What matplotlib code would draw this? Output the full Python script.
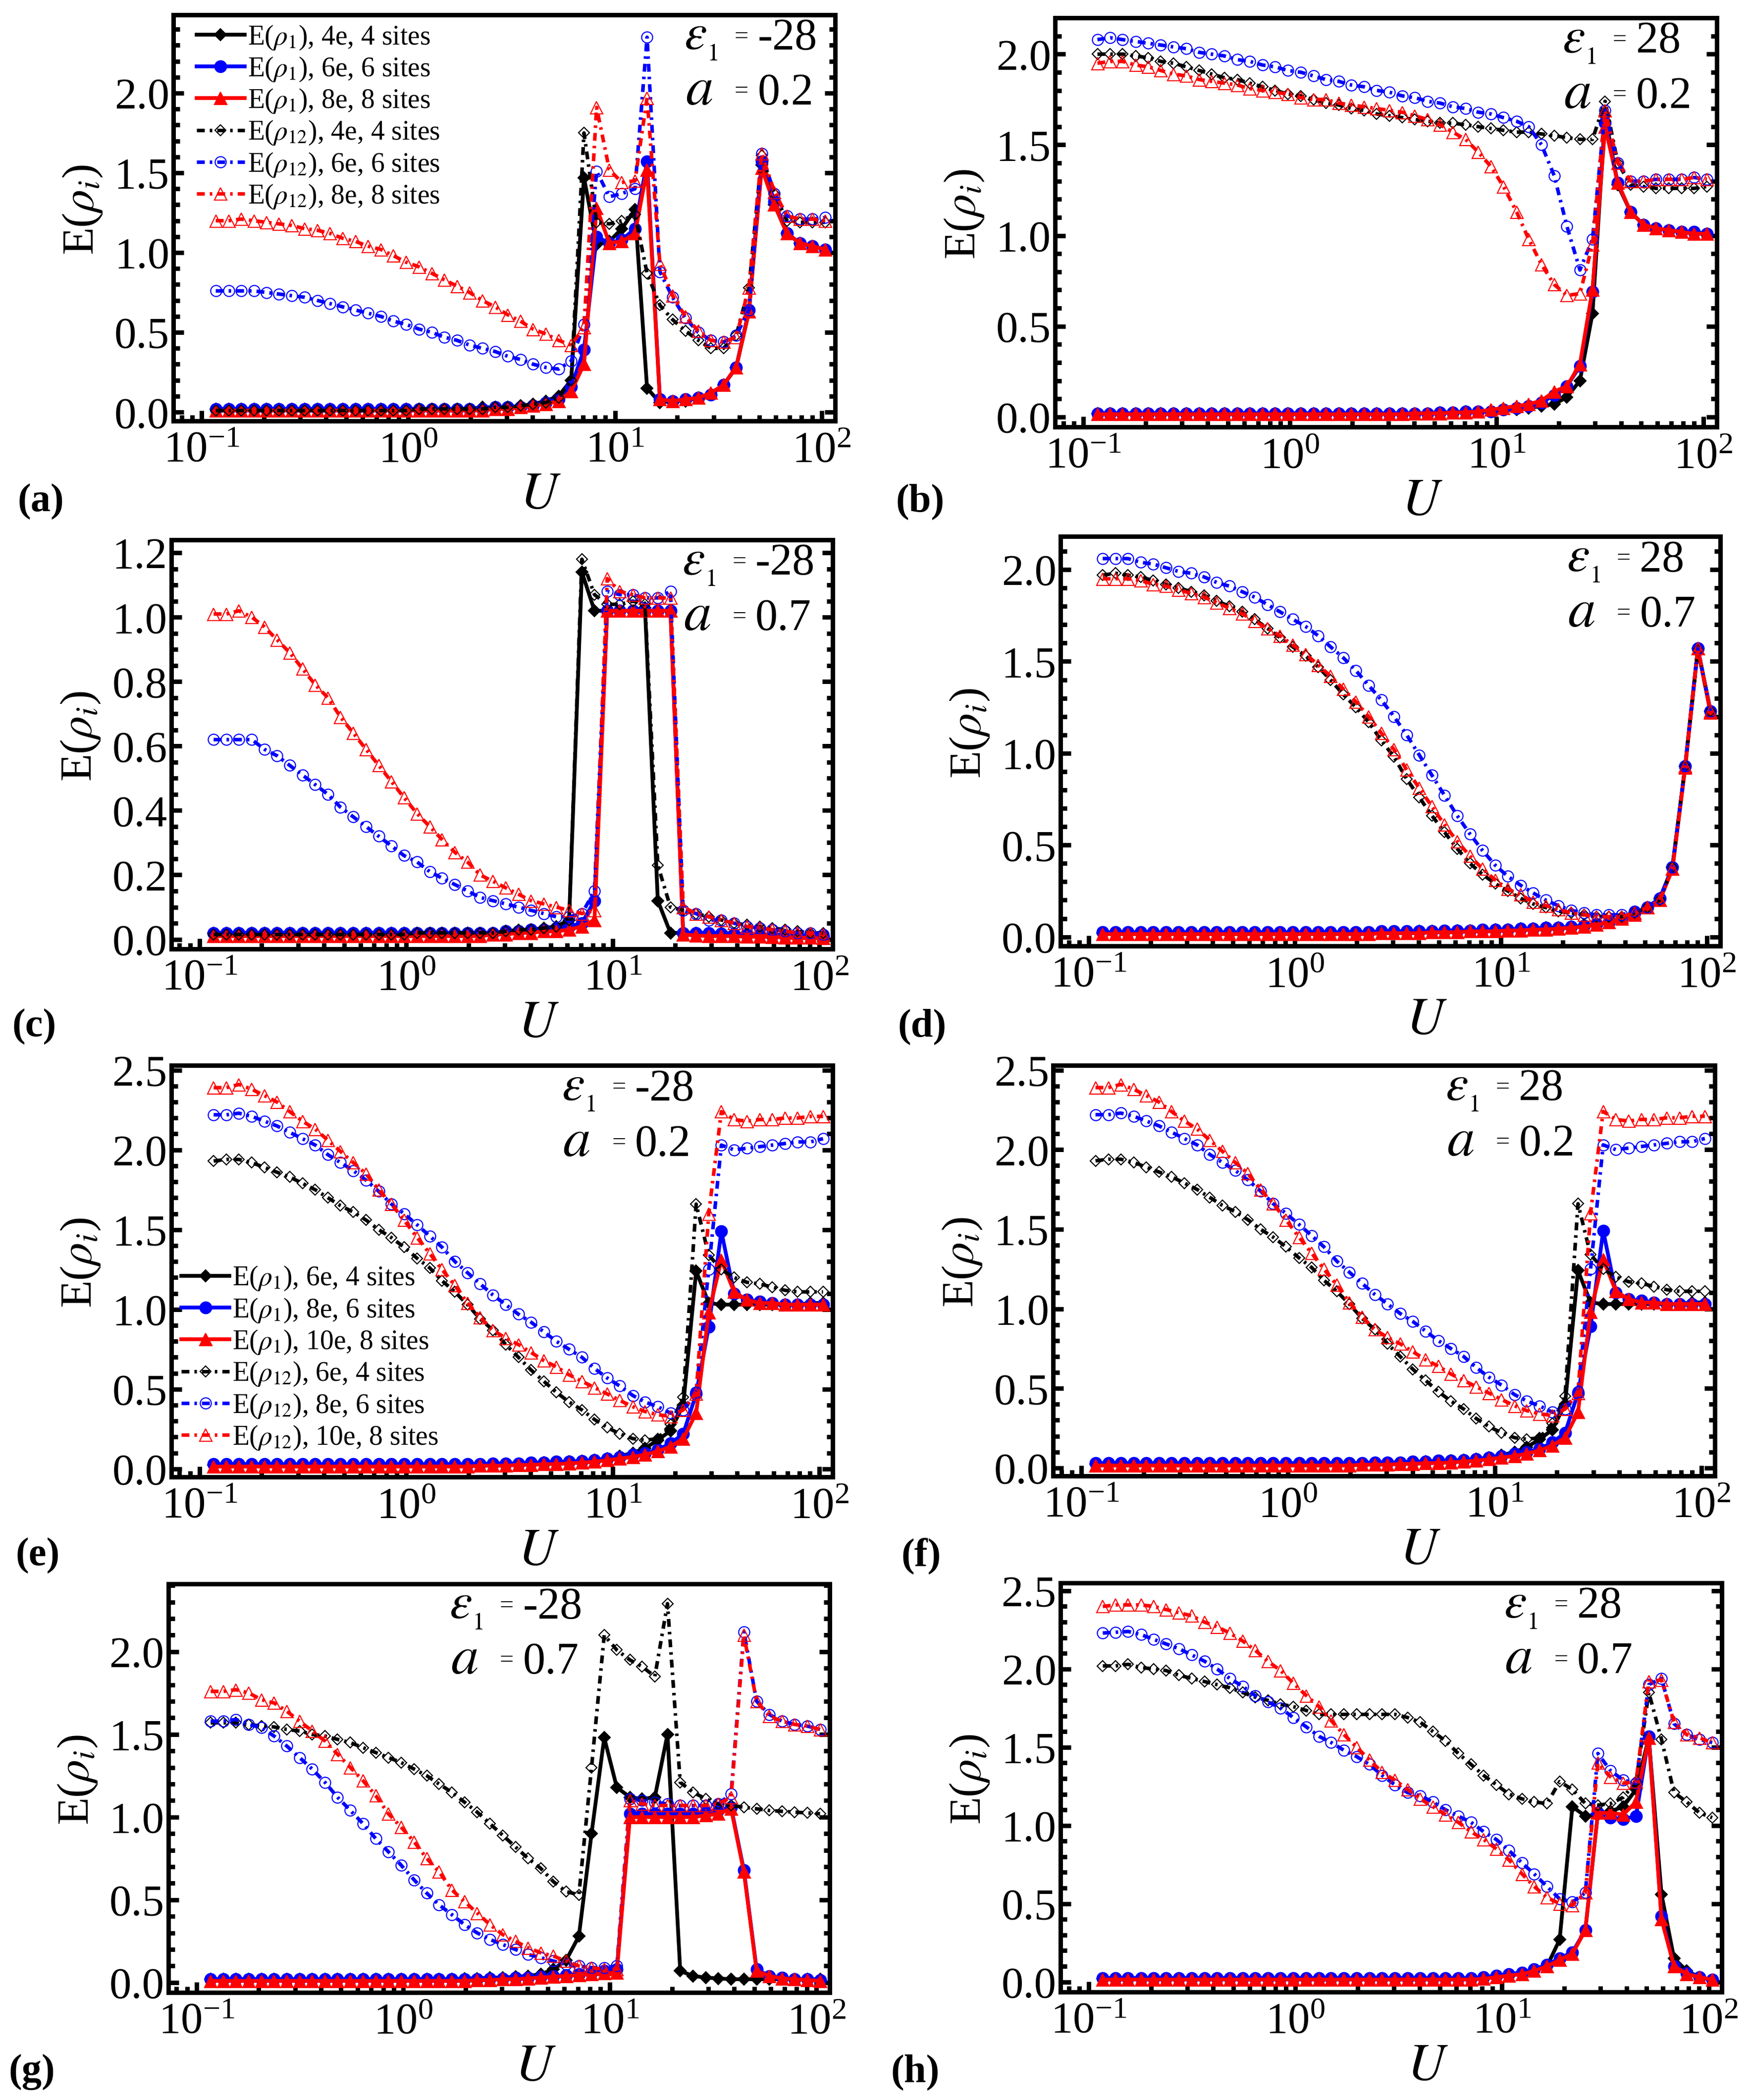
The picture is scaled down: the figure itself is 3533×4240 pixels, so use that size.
import matplotlib
matplotlib.use("Agg")
import matplotlib.pyplot as plt
from matplotlib.ticker import MultipleLocator, LogLocator, NullFormatter, FormatStrFormatter

plt.rcParams['font.family'] = ['Liberation Serif', 'DejaVu Serif']
plt.rcParams['mathtext.fontset'] = 'stix'
plt.rcParams['axes.unicode_minus'] = False

# ── Data ─────────────────────────────────────────────────────────────────────

U = [0.117, 0.135, 0.155, 0.179, 0.206, 0.237, 0.273, 0.315, 0.363, 0.418,
     0.481, 0.555, 0.639, 0.736, 0.848, 0.976, 1.13, 1.30, 1.49, 1.72,
     1.98, 2.28, 2.63, 3.03, 3.49, 4.02, 4.63, 5.33, 6.14, 7.08,
     8.15, 9.39, 10.8, 12.5, 14.3, 16.5, 19.0, 21.9, 25.3, 29.1,
     33.5, 38.6, 44.5, 51.3, 59.1, 68.0, 78.4, 90.3, 104.0]

# (a) eps1 = -28, a = 0.2
a_r1_4e = [0.02, 0.02, 0.02, 0.02, 0.02, 0.02, 0.02, 0.02, 0.02, 0.02,
           0.02, 0.02, 0.02, 0.02, 0.02, 0.02, 0.02, 0.02, 0.02, 0.02,
           0.02, 0.03, 0.03, 0.03, 0.04, 0.05, 0.07, 0.10, 0.20, 1.47,
           1.05, 1.07, 1.15, 1.27, 0.15, 0.06, 0.07, 0.07, 0.09, 0.11,
           0.17, 0.28, 0.63, 1.55, 1.30, 1.12, 1.06, 1.04, 1.02]
a_r1_6e = [0.02, 0.02, 0.02, 0.02, 0.02, 0.02, 0.02, 0.02, 0.02, 0.02,
           0.02, 0.02, 0.02, 0.02, 0.02, 0.02, 0.02, 0.02, 0.02, 0.02,
           0.02, 0.02, 0.03, 0.03, 0.03, 0.04, 0.06, 0.08, 0.16, 0.39,
           1.10, 1.06, 1.08, 1.15, 1.57, 0.08, 0.07, 0.08, 0.09, 0.11,
           0.17, 0.28, 0.64, 1.57, 1.32, 1.12, 1.06, 1.04, 1.02]
a_r1_8e = [0.01, 0.01, 0.01, 0.01, 0.01, 0.01, 0.01, 0.01, 0.01, 0.01,
           0.01, 0.01, 0.01, 0.01, 0.01, 0.01, 0.01, 0.01, 0.01, 0.01,
           0.01, 0.01, 0.02, 0.02, 0.03, 0.04, 0.05, 0.07, 0.13, 0.30,
           1.28, 1.06, 1.07, 1.12, 1.52, 0.08, 0.07, 0.08, 0.09, 0.12,
           0.17, 0.28, 0.63, 1.53, 1.30, 1.12, 1.06, 1.04, 1.02]
a_r12_4e = [0.01, 0.01, 0.01, 0.01, 0.01, 0.01, 0.01, 0.01, 0.01, 0.01,
            0.01, 0.01, 0.01, 0.01, 0.01, 0.01, 0.02, 0.02, 0.02, 0.02,
            0.02, 0.02, 0.03, 0.03, 0.04, 0.05, 0.06, 0.09, 0.20, 1.75,
            1.19, 1.18, 1.20, 1.24, 0.87, 0.67, 0.58, 0.51, 0.45, 0.40,
            0.40, 0.48, 0.78, 1.61, 1.37, 1.20, 1.19, 1.19, 1.19]
a_r12_6e = [0.76, 0.76, 0.76, 0.76, 0.75, 0.74, 0.73, 0.72, 0.70, 0.68,
            0.66, 0.64, 0.62, 0.60, 0.57, 0.55, 0.52, 0.50, 0.47, 0.45,
            0.42, 0.40, 0.38, 0.35, 0.33, 0.30, 0.28, 0.27, 0.32, 0.55,
            1.51, 1.35, 1.37, 1.40, 2.35, 0.88, 0.72, 0.59, 0.50, 0.45,
            0.44, 0.48, 0.64, 1.62, 1.37, 1.23, 1.21, 1.21, 1.22]
a_r12_8e = [1.20, 1.20, 1.21, 1.20, 1.19, 1.18, 1.17, 1.15, 1.14, 1.12,
            1.09, 1.07, 1.04, 1.02, 0.98, 0.94, 0.91, 0.87, 0.83, 0.79,
            0.75, 0.70, 0.66, 0.61, 0.57, 0.52, 0.49, 0.45, 0.42, 0.53,
            1.91, 1.52, 1.44, 1.45, 1.97, 0.93, 0.73, 0.60, 0.51, 0.45,
            0.44, 0.47, 0.78, 1.62, 1.38, 1.23, 1.21, 1.21, 1.20]

# (b) eps1 = 28, a = 0.2
b_r1_4e = [0.02, 0.02, 0.02, 0.02, 0.02, 0.02, 0.02, 0.02, 0.02, 0.02,
           0.02, 0.02, 0.02, 0.02, 0.02, 0.02, 0.02, 0.02, 0.02, 0.02,
           0.02, 0.02, 0.02, 0.02, 0.02, 0.02, 0.02, 0.025, 0.025, 0.03,
           0.03, 0.03, 0.04, 0.04, 0.05, 0.06, 0.07, 0.11, 0.20, 0.57,
           1.66, 1.28, 1.13, 1.06, 1.04, 1.03, 1.02, 1.01, 1.01]
b_r1_6e = [0.02, 0.02, 0.02, 0.02, 0.02, 0.02, 0.02, 0.02, 0.02, 0.02,
           0.02, 0.02, 0.02, 0.02, 0.02, 0.02, 0.02, 0.02, 0.02, 0.02,
           0.02, 0.02, 0.02, 0.02, 0.02, 0.02, 0.02, 0.025, 0.025, 0.03,
           0.03, 0.03, 0.04, 0.05, 0.06, 0.08, 0.12, 0.17, 0.28, 0.69,
           1.62, 1.29, 1.13, 1.06, 1.04, 1.03, 1.02, 1.02, 1.01]
b_r1_8e = [0.015, 0.015, 0.015, 0.015, 0.015, 0.015, 0.015, 0.015, 0.015, 0.015,
           0.015, 0.015, 0.015, 0.015, 0.015, 0.015, 0.015, 0.015, 0.015, 0.015,
           0.015, 0.015, 0.015, 0.015, 0.015, 0.02, 0.02, 0.02, 0.025, 0.025,
           0.03, 0.04, 0.05, 0.06, 0.07, 0.09, 0.14, 0.17, 0.29, 0.70,
           1.60, 1.29, 1.13, 1.06, 1.04, 1.03, 1.02, 1.01, 1.01]
b_r12_4e = [2.00, 2.00, 2.00, 1.99, 1.98, 1.96, 1.95, 1.93, 1.91, 1.89,
            1.87, 1.86, 1.84, 1.82, 1.80, 1.78, 1.77, 1.75, 1.73, 1.72,
            1.70, 1.69, 1.67, 1.66, 1.65, 1.64, 1.63, 1.62, 1.62, 1.61,
            1.60, 1.59, 1.58, 1.57, 1.57, 1.56, 1.55, 1.54, 1.53, 1.53,
            1.74, 1.40, 1.28, 1.27, 1.26, 1.26, 1.26, 1.26, 1.27]
b_r12_6e = [2.08, 2.09, 2.08, 2.07, 2.06, 2.05, 2.04, 2.03, 2.01, 2.00,
            1.99, 1.97, 1.96, 1.94, 1.93, 1.91, 1.90, 1.88, 1.86, 1.85,
            1.83, 1.82, 1.80, 1.79, 1.77, 1.76, 1.74, 1.73, 1.71, 1.70,
            1.68, 1.67, 1.65, 1.63, 1.60, 1.50, 1.33, 1.05, 0.81, 0.98,
            1.69, 1.40, 1.30, 1.30, 1.31, 1.31, 1.31, 1.32, 1.31]
b_r12_8e = [1.95, 1.96, 1.96, 1.94, 1.93, 1.91, 1.89, 1.88, 1.86, 1.85,
            1.84, 1.83, 1.81, 1.80, 1.79, 1.78, 1.76, 1.75, 1.75, 1.73,
            1.72, 1.71, 1.70, 1.69, 1.68, 1.66, 1.64, 1.61, 1.57, 1.53,
            1.46, 1.38, 1.27, 1.13, 0.98, 0.84, 0.73, 0.67, 0.68, 0.95,
            1.69, 1.40, 1.30, 1.30, 1.31, 1.31, 1.31, 1.32, 1.31]

# (c) eps1 = -28, a = 0.7
c_r1_4e = [0.02, 0.02, 0.02, 0.02, 0.02, 0.02, 0.02, 0.02, 0.02, 0.02,
           0.02, 0.02, 0.02, 0.02, 0.02, 0.02, 0.02, 0.02, 0.02, 0.02,
           0.02, 0.02, 0.02, 0.025, 0.025, 0.03, 0.035, 0.04, 0.06, 1.14,
           1.02, 1.02, 1.02, 1.02, 1.03, 0.12, 0.02, 0.02, 0.02, 0.02,
           0.02, 0.018, 0.016, 0.015, 0.014, 0.013, 0.012, 0.011, 0.01]
c_r1_6e = [0.02, 0.02, 0.02, 0.02, 0.02, 0.02, 0.02, 0.02, 0.02, 0.02,
           0.02, 0.02, 0.02, 0.02, 0.02, 0.02, 0.02, 0.02, 0.02, 0.02,
           0.02, 0.02, 0.02, 0.025, 0.025, 0.03, 0.03, 0.035, 0.04, 0.05,
           0.12, 1.02, 1.02, 1.02, 1.02, 1.02, 1.02, 0.02, 0.02, 0.02,
           0.018, 0.016, 0.015, 0.014, 0.012, 0.011, 0.01, 0.009, 0.008]
c_r1_8e = [0.01, 0.01, 0.01, 0.01, 0.01, 0.01, 0.01, 0.01, 0.01, 0.01,
           0.01, 0.01, 0.01, 0.01, 0.01, 0.01, 0.01, 0.01, 0.01, 0.01,
           0.01, 0.01, 0.015, 0.015, 0.02, 0.02, 0.025, 0.025, 0.03, 0.04,
           0.06, 1.02, 1.02, 1.02, 1.02, 1.02, 1.02, 0.015, 0.012, 0.01,
           0.01, 0.01, 0.008, 0.008, 0.007, 0.006, 0.005, 0.005, 0.004]
c_r12_4e = [0.015, 0.015, 0.015, 0.015, 0.015, 0.015, 0.015, 0.015, 0.015, 0.015,
            0.015, 0.015, 0.015, 0.015, 0.015, 0.015, 0.02, 0.02, 0.02, 0.02,
            0.02, 0.02, 0.02, 0.025, 0.03, 0.03, 0.035, 0.04, 0.06, 1.18,
            1.07, 1.04, 1.04, 1.05, 1.04, 0.23, 0.10, 0.09, 0.08, 0.07,
            0.06, 0.05, 0.045, 0.04, 0.035, 0.03, 0.025, 0.02, 0.02]
c_r12_6e = [0.62, 0.62, 0.62, 0.62, 0.59, 0.57, 0.54, 0.51, 0.48, 0.45,
            0.41, 0.38, 0.35, 0.32, 0.29, 0.26, 0.24, 0.21, 0.19, 0.17,
            0.15, 0.13, 0.12, 0.11, 0.10, 0.09, 0.08, 0.07, 0.07, 0.08,
            0.15, 1.08, 1.07, 1.07, 1.06, 1.06, 1.08, 0.09, 0.08, 0.06,
            0.06, 0.05, 0.04, 0.035, 0.03, 0.025, 0.02, 0.02, 0.015]
c_r12_8e = [1.01, 1.01, 1.02, 1.00, 0.97, 0.93, 0.89, 0.84, 0.79, 0.75,
            0.69, 0.64, 0.59, 0.54, 0.49, 0.44, 0.39, 0.35, 0.31, 0.27,
            0.24, 0.20, 0.18, 0.16, 0.14, 0.12, 0.11, 0.10, 0.09, 0.08,
            0.09, 1.12, 1.08, 1.07, 1.06, 1.06, 1.06, 0.10, 0.08, 0.07,
            0.06, 0.05, 0.04, 0.035, 0.03, 0.025, 0.02, 0.02, 0.015]

# (d) eps1 = 28, a = 0.7
d_r1_4e = [0.02, 0.02, 0.02, 0.02, 0.02, 0.02, 0.02, 0.02, 0.02, 0.02,
           0.02, 0.02, 0.02, 0.02, 0.02, 0.02, 0.02, 0.02, 0.02, 0.02,
           0.02, 0.02, 0.025, 0.025, 0.025, 0.03, 0.03, 0.03, 0.035, 0.035,
           0.035, 0.04, 0.04, 0.045, 0.045, 0.05, 0.05, 0.055, 0.06, 0.07,
           0.08, 0.10, 0.13, 0.16, 0.21, 0.38, 0.93, 1.57, 1.23]
d_r1_6e = [0.025, 0.025, 0.025, 0.025, 0.025, 0.025, 0.025, 0.025, 0.025, 0.025,
           0.025, 0.025, 0.025, 0.025, 0.025, 0.025, 0.025, 0.025, 0.025, 0.025,
           0.025, 0.025, 0.03, 0.03, 0.03, 0.03, 0.03, 0.035, 0.035, 0.035,
           0.04, 0.04, 0.04, 0.045, 0.045, 0.05, 0.05, 0.055, 0.06, 0.07,
           0.08, 0.10, 0.13, 0.16, 0.21, 0.38, 0.93, 1.57, 1.23]
d_r1_8e = [0.015, 0.015, 0.015, 0.015, 0.015, 0.015, 0.015, 0.015, 0.015, 0.015,
           0.015, 0.015, 0.015, 0.015, 0.015, 0.015, 0.015, 0.015, 0.015, 0.015,
           0.015, 0.015, 0.02, 0.02, 0.02, 0.02, 0.025, 0.025, 0.025, 0.03,
           0.03, 0.03, 0.035, 0.035, 0.04, 0.04, 0.045, 0.05, 0.055, 0.065,
           0.08, 0.10, 0.12, 0.16, 0.20, 0.37, 0.92, 1.57, 1.22]
d_r12_4e = [1.97, 1.98, 1.97, 1.96, 1.94, 1.92, 1.90, 1.88, 1.86, 1.83,
            1.80, 1.77, 1.73, 1.68, 1.63, 1.58, 1.53, 1.47, 1.40, 1.32,
            1.25, 1.17, 1.07, 0.98, 0.86, 0.76, 0.66, 0.57, 0.48, 0.40,
            0.34, 0.29, 0.25, 0.21, 0.18, 0.16, 0.14, 0.13, 0.12, 0.11,
            0.11, 0.11, 0.13, 0.16, 0.20, 0.38, 0.93, 1.56, 1.23]
d_r12_6e = [2.06, 2.06, 2.06, 2.04, 2.03, 2.01, 1.99, 1.98, 1.96, 1.93,
            1.91, 1.88, 1.85, 1.81, 1.77, 1.73, 1.69, 1.64, 1.58, 1.52,
            1.45, 1.37, 1.29, 1.20, 1.10, 0.99, 0.88, 0.77, 0.66, 0.56,
            0.47, 0.39, 0.33, 0.28, 0.24, 0.20, 0.17, 0.145, 0.13, 0.12,
            0.12, 0.12, 0.14, 0.16, 0.21, 0.38, 0.93, 1.57, 1.23]
d_r12_8e = [1.95, 1.95, 1.95, 1.94, 1.92, 1.91, 1.89, 1.87, 1.85, 1.82,
            1.79, 1.76, 1.72, 1.68, 1.64, 1.59, 1.54, 1.48, 1.42, 1.35,
            1.28, 1.20, 1.11, 1.02, 0.91, 0.81, 0.71, 0.61, 0.52, 0.44,
            0.37, 0.31, 0.26, 0.23, 0.19, 0.17, 0.15, 0.13, 0.12, 0.11,
            0.11, 0.11, 0.13, 0.16, 0.20, 0.37, 0.93, 1.57, 1.23]

# (e) eps1 = -28, a = 0.2 (6e/8e/10e); (f) eps1 = 28 reads the same
e_r1_6e = [0.025, 0.025, 0.025, 0.025, 0.025, 0.025, 0.025, 0.025, 0.025, 0.025,
           0.025, 0.025, 0.025, 0.025, 0.025, 0.025, 0.025, 0.025, 0.025, 0.025,
           0.025, 0.025, 0.03, 0.03, 0.03, 0.035, 0.04, 0.04, 0.045, 0.05,
           0.055, 0.065, 0.08, 0.10, 0.13, 0.18, 0.24, 0.40, 1.24, 1.04,
           1.03, 1.03, 1.03, 1.03, 1.03, 1.03, 1.03, 1.04, 1.04]
e_r1_8e = [0.03, 0.03, 0.03, 0.03, 0.03, 0.03, 0.03, 0.03, 0.03, 0.03,
           0.03, 0.03, 0.03, 0.03, 0.03, 0.03, 0.03, 0.03, 0.03, 0.03,
           0.03, 0.03, 0.035, 0.035, 0.035, 0.04, 0.04, 0.045, 0.045, 0.05,
           0.055, 0.065, 0.075, 0.09, 0.10, 0.12, 0.16, 0.22, 0.47, 0.89,
           1.49, 1.10, 1.06, 1.05, 1.04, 1.03, 1.03, 1.03, 1.03]
e_r1_10e = [0.015, 0.015, 0.015, 0.015, 0.015, 0.015, 0.015, 0.015, 0.015, 0.015,
            0.015, 0.015, 0.015, 0.015, 0.015, 0.015, 0.015, 0.015, 0.015, 0.015,
            0.015, 0.02, 0.02, 0.02, 0.025, 0.025, 0.03, 0.03, 0.035, 0.04,
            0.045, 0.055, 0.065, 0.075, 0.09, 0.11, 0.14, 0.19, 0.35, 0.98,
            1.31, 1.11, 1.06, 1.04, 1.04, 1.03, 1.03, 1.03, 1.03]
e_r12_6e = [1.93, 1.94, 1.94, 1.92, 1.89, 1.86, 1.83, 1.79, 1.75, 1.70,
            1.65, 1.61, 1.56, 1.50, 1.45, 1.39, 1.32, 1.26, 1.18, 1.11,
            1.03, 0.94, 0.87, 0.78, 0.70, 0.62, 0.55, 0.48, 0.42, 0.37,
            0.31, 0.26, 0.22, 0.19, 0.18, 0.19, 0.28, 0.45, 1.66, 1.34,
            1.25, 1.20, 1.17, 1.16, 1.14, 1.12, 1.11, 1.11, 1.11]
e_r12_8e = [2.22, 2.22, 2.23, 2.21, 2.18, 2.15, 2.11, 2.07, 2.03, 1.97,
            1.92, 1.87, 1.81, 1.74, 1.66, 1.60, 1.53, 1.46, 1.39, 1.30,
            1.23, 1.16, 1.09, 1.03, 0.97, 0.92, 0.86, 0.80, 0.75, 0.70,
            0.63, 0.57, 0.52, 0.46, 0.42, 0.39, 0.35, 0.37, 0.48, 1.25,
            2.03, 2.00, 2.01, 2.02, 2.03, 2.04, 2.05, 2.05, 2.07]
e_r12_10e = [2.39, 2.39, 2.41, 2.38, 2.34, 2.30, 2.24, 2.18, 2.13, 2.06,
             1.99, 1.92, 1.85, 1.75, 1.66, 1.56, 1.45, 1.35, 1.25, 1.15,
             1.04, 0.95, 0.87, 0.82, 0.78, 0.73, 0.68, 0.64, 0.59, 0.55,
             0.51, 0.47, 0.43, 0.39, 0.36, 0.34, 0.33, 0.37, 0.47, 1.60,
             2.24, 2.19, 2.18, 2.19, 2.19, 2.20, 2.20, 2.21, 2.21]

# (g) eps1 = -28, a = 0.7
g_r1_4e = [0.02, 0.02, 0.02, 0.02, 0.02, 0.02, 0.02, 0.02, 0.02, 0.02,
           0.02, 0.02, 0.02, 0.02, 0.02, 0.02, 0.02, 0.02, 0.02, 0.02,
           0.025, 0.025, 0.03, 0.03, 0.035, 0.04, 0.05, 0.08, 0.135, 0.28,
           0.90, 1.48, 1.18, 1.12, 1.11, 1.12, 1.50, 0.07, 0.04, 0.03,
           0.025, 0.02, 0.02, 0.02, 0.02, 0.02, 0.02, 0.02, 0.02]
g_r1_6e = [0.02, 0.02, 0.02, 0.02, 0.02, 0.02, 0.02, 0.02, 0.02, 0.02,
           0.02, 0.02, 0.02, 0.02, 0.02, 0.02, 0.02, 0.02, 0.02, 0.02,
           0.02, 0.02, 0.025, 0.025, 0.03, 0.03, 0.035, 0.04, 0.045, 0.05,
           0.06, 0.07, 0.08, 1.02, 1.02, 1.02, 1.02, 1.02, 1.02, 1.03,
           1.04, 1.06, 0.68, 0.08, 0.04, 0.03, 0.02, 0.02, 0.015]
g_r1_8e = [0.01, 0.01, 0.01, 0.01, 0.01, 0.01, 0.01, 0.01, 0.01, 0.01,
           0.01, 0.01, 0.01, 0.01, 0.01, 0.01, 0.01, 0.01, 0.01, 0.01,
           0.01, 0.015, 0.015, 0.02, 0.02, 0.025, 0.03, 0.035, 0.04, 0.045,
           0.05, 0.055, 0.06, 1.00, 1.00, 1.00, 1.00, 1.00, 1.00, 1.01,
           1.02, 1.05, 0.67, 0.07, 0.04, 0.025, 0.02, 0.015, 0.01]
g_r12_4e = [1.57, 1.57, 1.57, 1.56, 1.55, 1.545, 1.53, 1.52, 1.50, 1.49,
            1.47, 1.45, 1.42, 1.39, 1.36, 1.33, 1.29, 1.25, 1.20, 1.15,
            1.09, 1.03, 0.96, 0.89, 0.82, 0.75, 0.69, 0.61, 0.55, 0.53,
            1.30, 2.10, 2.01, 1.95, 1.91, 1.85, 2.29, 1.21, 1.15, 1.11,
            1.08, 1.07, 1.06, 1.05, 1.04, 1.035, 1.03, 1.025, 1.02]
g_r12_6e = [1.58, 1.58, 1.59, 1.56, 1.54, 1.49, 1.43, 1.36, 1.29, 1.21,
            1.12, 1.04, 0.96, 0.87, 0.79, 0.71, 0.62, 0.54, 0.47, 0.41,
            0.35, 0.30, 0.26, 0.23, 0.20, 0.17, 0.15, 0.13, 0.11, 0.10,
            0.09, 0.09, 0.10, 1.11, 1.10, 1.09, 1.08, 1.07, 1.07, 1.07,
            1.08, 1.14, 2.12, 1.70, 1.62, 1.58, 1.56, 1.55, 1.53]
g_r12_8e = [1.76, 1.76, 1.77, 1.75, 1.71, 1.69, 1.64, 1.58, 1.52, 1.46,
            1.38, 1.30, 1.22, 1.13, 1.02, 0.94, 0.85, 0.75, 0.67, 0.56,
            0.49, 0.42, 0.35, 0.29, 0.25, 0.21, 0.18, 0.16, 0.13, 0.10,
            0.09, 0.08, 0.08, 1.10, 1.08, 1.07, 1.07, 1.07, 1.07, 1.07,
            1.08, 1.12, 2.10, 1.70, 1.61, 1.58, 1.56, 1.55, 1.53]

# (h) eps1 = 28, a = 0.7
h_r1_4e = [0.02, 0.02, 0.02, 0.02, 0.02, 0.02, 0.02, 0.02, 0.02, 0.02,
           0.02, 0.02, 0.02, 0.02, 0.02, 0.02, 0.02, 0.02, 0.02, 0.02,
           0.02, 0.02, 0.02, 0.02, 0.02, 0.02, 0.02, 0.02, 0.02, 0.02,
           0.025, 0.03, 0.04, 0.05, 0.07, 0.10, 0.27, 1.12, 1.06, 1.07,
           1.09, 1.12, 1.23, 1.56, 0.56, 0.15, 0.07, 0.03, 0.01]
h_r1_6e = [0.025, 0.025, 0.025, 0.025, 0.025, 0.025, 0.025, 0.025, 0.025, 0.025,
           0.025, 0.025, 0.025, 0.025, 0.025, 0.025, 0.025, 0.025, 0.025, 0.025,
           0.025, 0.025, 0.025, 0.025, 0.025, 0.025, 0.025, 0.025, 0.025, 0.025,
           0.03, 0.04, 0.05, 0.06, 0.08, 0.11, 0.15, 0.19, 0.33, 1.08,
           1.05, 1.04, 1.06, 1.57, 0.42, 0.10, 0.055, 0.03, 0.015]
h_r1_8e = [0.015, 0.015, 0.015, 0.015, 0.015, 0.015, 0.015, 0.015, 0.015, 0.015,
           0.015, 0.015, 0.015, 0.015, 0.015, 0.015, 0.015, 0.015, 0.015, 0.015,
           0.015, 0.015, 0.015, 0.015, 0.015, 0.015, 0.015, 0.015, 0.015, 0.015,
           0.02, 0.03, 0.04, 0.05, 0.07, 0.10, 0.14, 0.18, 0.33, 1.08,
           1.08, 1.07, 1.15, 1.56, 0.40, 0.10, 0.05, 0.03, 0.015]
h_r12_4e = [2.02, 2.02, 2.03, 2.01, 2.00, 1.99, 1.96, 1.94, 1.92, 1.90,
            1.88, 1.85, 1.82, 1.80, 1.775, 1.76, 1.735, 1.71, 1.71, 1.71,
            1.71, 1.71, 1.71, 1.71, 1.69, 1.66, 1.60, 1.54, 1.46, 1.39,
            1.32, 1.26, 1.20, 1.17, 1.15, 1.14, 1.28, 1.23, 1.14, 1.13,
            1.14, 1.18, 1.28, 1.85, 1.55, 1.21, 1.15, 1.08, 1.05]
h_r12_6e = [2.23, 2.235, 2.24, 2.22, 2.19, 2.16, 2.13, 2.09, 2.05, 2.00,
            1.94, 1.89, 1.83, 1.79, 1.75, 1.69, 1.63, 1.57, 1.53, 1.48,
            1.44, 1.39, 1.32, 1.26, 1.21, 1.19, 1.15, 1.10, 1.06, 1.02,
            0.96, 0.91, 0.84, 0.76, 0.69, 0.61, 0.53, 0.51, 0.57, 1.46,
            1.35, 1.29, 1.27, 1.90, 1.94, 1.65, 1.58, 1.55, 1.53]
h_r12_8e = [2.40, 2.41, 2.41, 2.41, 2.40, 2.38, 2.36, 2.34, 2.30, 2.27,
            2.23, 2.18, 2.12, 2.05, 1.99, 1.91, 1.83, 1.76, 1.67, 1.58,
            1.50, 1.42, 1.34, 1.29, 1.23, 1.17, 1.12, 1.07, 1.02, 0.96,
            0.91, 0.85, 0.78, 0.69, 0.61, 0.54, 0.50, 0.49, 0.57, 1.40,
            1.31, 1.27, 1.28, 1.92, 1.93, 1.66, 1.58, 1.56, 1.53]

labels_top = [r'E($\rho_1$), 4e, 4 sites', r'E($\rho_1$), 6e, 6 sites',
              r'E($\rho_1$), 8e, 8 sites', r'E($\rho_{12}$), 4e, 4 sites',
              r'E($\rho_{12}$), 6e, 6 sites', r'E($\rho_{12}$), 8e, 8 sites']
labels_bottom = [r'E($\rho_1$), 6e, 4 sites', r'E($\rho_1$), 8e, 6 sites',
                 r'E($\rho_1$), 10e, 8 sites', r'E($\rho_{12}$), 6e, 4 sites',
                 r'E($\rho_{12}$), 8e, 6 sites', r'E($\rho_{12}$), 10e, 8 sites']

# ── Styles ────────────────────────────────────────────────────────────────────

DASHDOT = (0, (2.2, 1.4, 0.7, 1.4))
STYLES = [
    dict(c='black', m='D', ls='-', lw=5.5, ms=12, fill=True),
    dict(c='blue', m='o', ls='-', lw=5.5, ms=17, fill=True),
    dict(c='red', m='^', ls='-', lw=5.5, ms=18, fill=True),
    dict(c='black', m='D', ls=DASHDOT, lw=5.2, ms=11.5, fill=False),
    dict(c='blue', m='o', ls=DASHDOT, lw=5.2, ms=16, fill=False),
    dict(c='red', m='^', ls=DASHDOT, lw=5.2, ms=18, fill=False),
]

panels = [
    # tag, axes rect, series, ylim, major, minor, eps text, a text, annot x, legend
    ('(a)', [0.0991, 0.7995, 0.378, 0.1934],
     [a_r1_4e, a_r1_6e, a_r1_8e, a_r12_4e, a_r12_6e, a_r12_8e],
     (-0.056, 2.49), 0.5, 0.1, '-28', '0.2', 0.772, (labels_top, (0.035, 0.978))),
    ('(b)', [0.6029, 0.7967, 0.378, 0.1948],
     [b_r1_4e, b_r1_6e, b_r1_8e, b_r12_4e, b_r12_6e, b_r12_8e],
     (-0.055, 2.20), 0.5, 0.1, '28', '0.2', 0.767, None),
    ('(c)', [0.0979, 0.5481, 0.378, 0.1948],
     [c_r1_4e, c_r1_6e, c_r1_8e, c_r12_4e, c_r12_6e, c_r12_8e],
     (-0.03, 1.24), 0.2, 0.05, '-28', '0.7', 0.772, None),
    ('(d)', [0.6060, 0.5495, 0.377, 0.1950],
     [d_r1_4e, d_r1_6e, d_r1_8e, d_r12_4e, d_r12_6e, d_r12_8e],
     (-0.05, 2.18), 0.5, 0.1, '28', '0.7', 0.767, None),
    ('(e)', [0.0979, 0.2967, 0.378, 0.1960],
     [e_r1_6e, e_r1_8e, e_r1_10e, e_r12_6e, e_r12_8e, e_r12_10e],
     (-0.05, 2.53), 0.5, 0.1, '-28', '0.2', 0.59, (labels_bottom, (0.015, 0.515))),
    ('(f)', [0.6018, 0.2972, 0.378, 0.1955],
     [e_r1_6e, e_r1_8e, e_r1_10e, e_r12_6e, e_r12_8e, e_r12_10e],
     (-0.05, 2.53), 0.5, 0.1, '28', '0.2', 0.593, None),
    ('(g)', [0.0962, 0.0512, 0.378, 0.1946],
     [g_r1_4e, g_r1_6e, g_r1_8e, g_r12_4e, g_r12_6e, g_r12_8e],
     (-0.06, 2.41), 0.5, 0.1, '-28', '0.7', 0.425, None),
    ('(h)', [0.6060, 0.0514, 0.378, 0.1948],
     [h_r1_4e, h_r1_6e, h_r1_8e, h_r12_4e, h_r12_6e, h_r12_8e],
     (-0.065, 2.55), 0.5, 0.1, '28', '0.7', 0.67, None),
]

bad = [p[0] + str(i) for p in panels for i, s in enumerate(p[2]) if len(s) != len(U)]
if bad:
    raise ValueError('length mismatch: %s' % bad)

TAG_POS = {'(a)': (0.010, 0.761), '(b)': (0.512, 0.761),
           '(c)': (0.007, 0.511), '(d)': (0.513, 0.511),
           '(e)': (0.009, 0.259), '(f)': (0.515, 0.259),
           '(g)': (0.005, 0.013), '(h)': (0.509, 0.013)}


def draw(ax, series, ylim, major, minor, eps, aval, tx, legend):
    lines = []
    for y, st in zip(series, STYLES):
        ln, = ax.plot(U, y, color=st['c'], marker=st['m'], ls=st['ls'], lw=st['lw'],
                      ms=st['ms'], mfc=st['c'] if st['fill'] else 'none',
                      mec=st['c'], mew=1.6)
        lines.append(ln)
    ax.set_xscale('log')
    ax.set_xlim(0.073, 116)
    ax.set_ylim(*ylim)
    ax.yaxis.set_major_locator(MultipleLocator(major))
    ax.yaxis.set_minor_locator(MultipleLocator(minor))
    ax.yaxis.set_major_formatter(FormatStrFormatter('%.1f'))
    ax.xaxis.set_major_locator(LogLocator(base=10, numticks=12))
    ax.xaxis.set_minor_locator(LogLocator(base=10, subs=(2, 3, 4, 5, 6, 7, 8, 9), numticks=12))
    ax.xaxis.set_minor_formatter(NullFormatter())
    ax.tick_params(which='both', direction='in', top=False, right=True,
                   width=6.5, labelsize=64)
    ax.tick_params(which='major', length=15)
    ax.tick_params(which='minor', length=9)
    ax.tick_params(axis='x', which='both', pad=14)
    ax.tick_params(axis='y', which='both', pad=6)
    for s in ax.spines.values():
        s.set_linewidth(6.5)
    ax.set_xlabel(r'$U$', fontsize=76)
    ax.xaxis.set_label_coords(0.555, -0.125)
    ax.set_ylabel(r'E($\rho_i$)', fontsize=66)
    ax.yaxis.set_label_coords(-0.105, 0.52)

    # parameter annotation: eps_1 = ..., a = ...  (small second-level subscript)
    tr = ax.transAxes
    ax.text(tx, 0.915, r'$\varepsilon_{{}_1}$', transform=tr, fontsize=74, va='baseline')
    ax.text(tx + 0.076, 0.931, '=', transform=tr, fontsize=36, va='baseline')
    ax.text(tx + 0.111, 0.915, eps, transform=tr, fontsize=65, va='baseline')
    ax.text(tx + 0.002, 0.780, r'$a$', transform=tr, fontsize=80, va='baseline')
    ax.text(tx + 0.076, 0.797, '=', transform=tr, fontsize=36, va='baseline')
    ax.text(tx + 0.111, 0.780, aval, transform=tr, fontsize=65, va='baseline')

    if legend is not None:
        labels, anchor = legend
        ax.legend(lines, labels, loc='upper left', bbox_to_anchor=anchor,
                  frameon=False, fontsize=40, handlelength=1.75, handletextpad=0.1,
                  labelspacing=0.16, borderaxespad=0, borderpad=0)


fig = plt.figure(figsize=(35.33, 42.40), dpi=100)
for tag, rect, series, ylim, major, minor, eps, aval, tx, legend in panels:
    ax = fig.add_axes(rect)
    draw(ax, series, ylim, major, minor, eps, aval, tx, legend)
    fig.text(TAG_POS[tag][0], TAG_POS[tag][1], tag, fontsize=58,
             fontweight='bold', va='center')

fig.savefig('out.png', dpi=100)
